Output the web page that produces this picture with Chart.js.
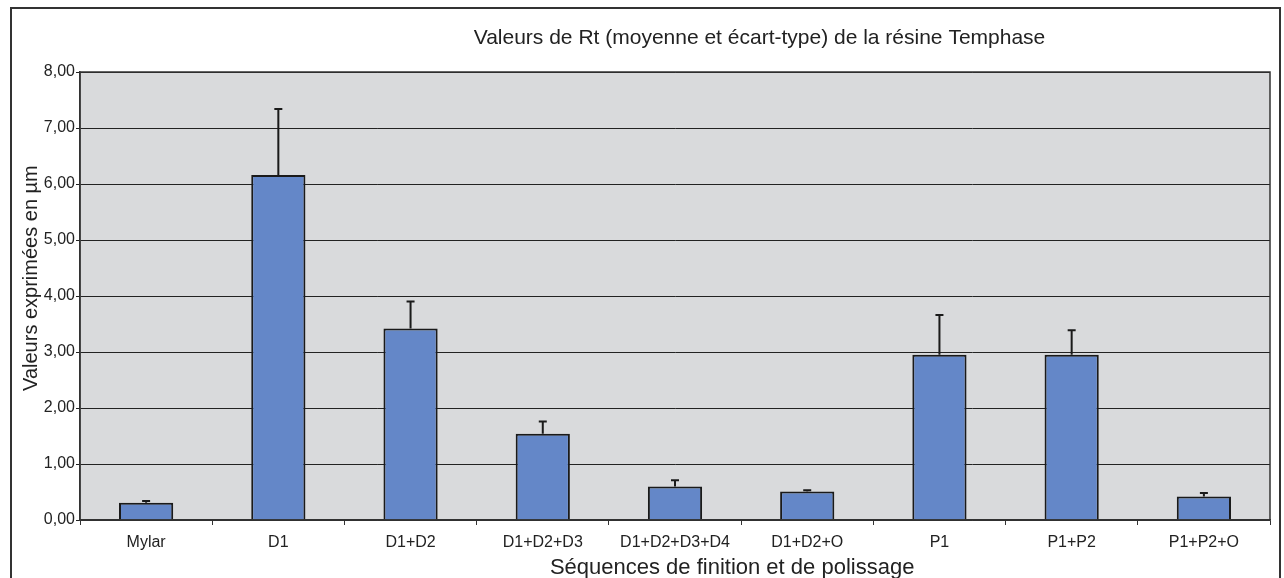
<!DOCTYPE html>
<html>
<head>
<meta charset="utf-8">
<script src="https://cdn.jsdelivr.net/npm/chart.js@4.4.1/dist/chart.umd.min.js"></script>
<style>
    body { margin: 0; background: #fff; }
    canvas { display: block; }
</style>
</head>
<body>
<canvas id="rtChart" width="1284" height="578"></canvas>
<script>
const categories = ['Mylar', 'D1', 'D1+D2', 'D1+D2+D3', 'D1+D2+D3+D4', 'D1+D2+O', 'P1', 'P1+P2', 'P1+P2+O'];
const means = [0.31, 6.16, 3.42, 1.54, 0.60, 0.51, 2.95, 2.95, 0.42];
const stdDevs = [0.03, 1.18, 0.48, 0.22, 0.11, 0.02, 0.71, 0.44, 0.06];
const yMin = 0, yMax = 8, yStep = 1;

const chartTitle = 'Valeurs de Rt (moyenne et écart-type) de la résine Temphase';
const xTitle = 'Séquences de finition et de polissage';
const yTitle = 'Valeurs exprimées en µm';

const fontFamily = '"Liberation Sans", Arial, sans-serif';

// fond gris de la zone de tracé + cadre extérieur
const backgroundPlugin = {
    id: 'background',
    beforeDraw(chart) {
        const { ctx, chartArea: a } = chart;
        ctx.save();
        ctx.fillStyle = '#fff';
        ctx.fillRect(0, 0, chart.width, chart.height);
        ctx.fillStyle = '#d9dadc';
        ctx.fillRect(a.left, a.top, a.right - a.left, a.bottom - a.top);
        ctx.strokeStyle = '#333';
        ctx.lineWidth = 2;
        ctx.strokeRect(11, 8, chart.width - 15, chart.height + 10);
        ctx.restore();
    }
};

// barres d'erreur (moyenne + écart-type)
const errorBarPlugin = {
    id: 'errorBars',
    afterDatasetsDraw(chart) {
        const { ctx } = chart;
        const yScale = chart.scales.y;
        const meta = chart.getDatasetMeta(0);
        ctx.save();
        ctx.strokeStyle = '#1a1a1a';
        ctx.lineWidth = 2;
        meta.data.forEach((bar, i) => {
            const top = yScale.getPixelForValue(means[i] + stdDevs[i]);
            ctx.beginPath();
            ctx.moveTo(bar.x, bar.y);
            ctx.lineTo(bar.x, top);
            ctx.moveTo(bar.x - 4, top);
            ctx.lineTo(bar.x + 4, top);
            ctx.stroke();
        });
        ctx.restore();
    }
};

// bord de la zone de tracé et titres
const titlesPlugin = {
    id: 'titles',
    afterDraw(chart) {
        const { ctx, chartArea: a } = chart;
        const w = a.right - a.left;
        ctx.save();
        ctx.strokeStyle = '#333';
        ctx.lineWidth = 1.5;
        ctx.strokeRect(a.left, a.top, w, a.bottom - a.top);

        ctx.fillStyle = '#222';
        ctx.textAlign = 'center';
        ctx.textBaseline = 'middle';
        ctx.font = '21px ' + fontFamily;
        ctx.fillText(chartTitle, a.left + w * 0.571, 38);

        ctx.font = '22px ' + fontFamily;
        ctx.fillText(xTitle, a.left + w * 0.548, 568);

        ctx.font = '20px ' + fontFamily;
        ctx.translate(31, a.top + (a.bottom - a.top) * 0.46);
        ctx.rotate(-Math.PI / 2);
        ctx.fillText(yTitle, 0, 0);
        ctx.restore();
    }
};

const ctx = document.getElementById('rtChart').getContext('2d');
const chart = new Chart(ctx, {
    type: 'bar',
    data: {
        labels: categories,
        datasets: [{
            label: 'Rt',
            data: means,
            backgroundColor: '#6487c8',
            borderColor: '#1a1a1a',
            borderWidth: 2,
            barPercentage: 0.41,
            categoryPercentage: 1
        }]
    },
    plugins: [backgroundPlugin, errorBarPlugin, titlesPlugin],
    options: {
        responsive: false,
        animation: false,
        devicePixelRatio: 1,
        layout: { padding: { top: 72, right: 14, bottom: 0, left: 0 } },
        plugins: {
            legend: { display: false },
            tooltip: { enabled: false }
        },
        scales: {
            x: {
                afterFit: (s) => { s.height = 58; },
                grid: {
                    display: true,
                    drawOnChartArea: false,
                    drawTicks: true,
                    tickLength: 5,
                    color: '#333',
                    offset: true
                },
                border: { display: true, color: '#333', width: 1.5 },
                ticks: {
                    color: '#222',
                    padding: 8,
                    maxRotation: 0,
                    autoSkip: false,
                    font: { family: fontFamily, size: 16 }
                }
            },
            y: {
                min: yMin,
                max: yMax,
                afterFit: (s) => { s.width = 80; },
                grid: {
                    color: '#222',
                    lineWidth: 1,
                    drawTicks: true,
                    tickLength: 4
                },
                border: { display: true, color: '#333', width: 1.5 },
                ticks: {
                    stepSize: yStep,
                    color: '#222',
                    padding: 1,
                    font: { family: fontFamily, size: 16 },
                    callback: (v) => v.toFixed(2).replace('.', ',')
                }
            }
        }
    }
});
</script>
</body>
</html>
